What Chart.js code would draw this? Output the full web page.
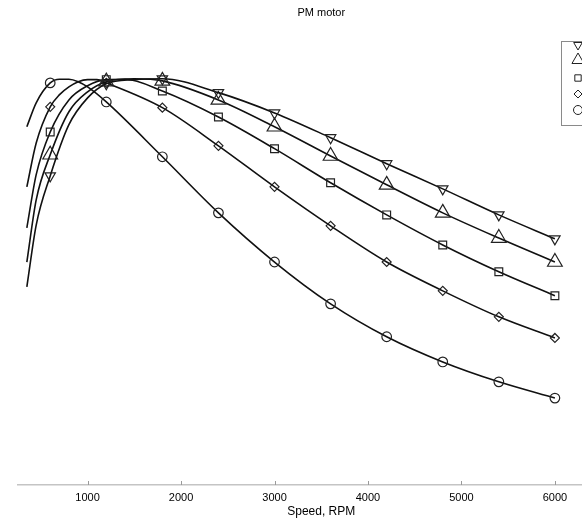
<!DOCTYPE html>
<html>
<head>
<meta charset="utf-8">
<title>PM motor</title>
<script src="https://cdn.jsdelivr.net/npm/chart.js@4.4.1/dist/chart.umd.min.js"></script>
<style>
  html, body { margin: 0; padding: 0; background: #fff; overflow: hidden; }
  #wrap { width: 640px; height: 522px; }
</style>
</head>
<body>
<div id="wrap"><canvas id="motorChart" width="640" height="522"></canvas></div>
<script>
// --- Data (normalised so that the peak is ~1) ---
const tickSpeeds = [1000, 2000, 3000, 4000, 5000, 6000];

const downSpeeds = [350, 450, 600, 800, 1000, 1200, 1500, 1800, 2400, 3000, 3600, 4200, 4800, 5400, 6000];
const downValues = [0.488, 0.640, 0.761, 0.887, 0.953, 0.988, 0.998, 1.0, 0.966, 0.916, 0.855, 0.791, 0.729, 0.665, 0.606];

const upSpeeds = [350, 450, 600, 800, 1000, 1200, 1500, 1800, 2400, 3000, 3600, 4200, 4800, 5400, 6000];
const upValues = [0.549, 0.702, 0.813, 0.919, 0.968, 0.993, 1.0, 0.995, 0.948, 0.882, 0.810, 0.739, 0.670, 0.608, 0.549];

const squareSpeeds = [350, 450, 600, 800, 1000, 1200, 1400, 1800, 2400, 3000, 3600, 4200, 4800, 5400, 6000];
const squareValues = [0.633, 0.764, 0.869, 0.948, 0.983, 0.998, 0.999, 0.970, 0.906, 0.828, 0.744, 0.665, 0.591, 0.525, 0.466];

const diamondSpeeds = [350, 450, 600, 700, 800, 900, 1000, 1100, 1200, 1800, 2400, 3000, 3600, 4200, 4800, 5400, 6000];
const diamondValues = [0.734, 0.842, 0.931, 0.961, 0.980, 0.993, 0.998, 0.998, 0.990, 0.929, 0.835, 0.734, 0.638, 0.549, 0.478, 0.414, 0.362];

const circleSpeeds = [350, 450, 600, 700, 800, 900, 1000, 1200, 1800, 2400, 3000, 3600, 4200, 4800, 5400, 6000];
const circleValues = [0.882, 0.941, 0.990, 0.999, 0.999, 0.993, 0.980, 0.943, 0.808, 0.670, 0.549, 0.446, 0.365, 0.303, 0.254, 0.214];

const MARKER_STEP = 600; // markers only every 600 rpm
const FONT = 'Liberation Sans, Arial, Helvetica, sans-serif';

// --- Helpers ---
function toPoints(xs, ys) {
    return xs.map((x, i) => ({ x: x, y: ys[i] }));
}

function makeSeries(label, xs, ys, style, radius, rotation) {
    return {
        label: label,
        data: toPoints(xs, ys),
        borderColor: '#111',
        borderWidth: 1.6,
        backgroundColor: 'rgba(0,0,0,0)',
        pointStyle: style,
        rotation: rotation || 0,
        pointBorderColor: '#222',
        pointBorderWidth: 1.2,
        pointRadius: ctx => (ctx.raw && ctx.raw.x % MARKER_STEP === 0 ? radius : 0),
        pointHoverRadius: 0,
        cubicInterpolationMode: 'monotone',
        fill: false
    };
}

const seriesList = [
    makeSeries('Case 1', downSpeeds, downValues, 'triangle', 6, 180),
    makeSeries('Case 2', upSpeeds, upValues, 'triangle', 8.5, 0),
    makeSeries('Case 3', squareSpeeds, squareValues, 'rect', 5.5, 0),
    makeSeries('Case 4', diamondSpeeds, diamondValues, 'rectRot', 4.5, 0),
    makeSeries('Case 5', circleSpeeds, circleValues, 'circle', 4.8, 0)
];

// small tick marks pointing up from the axis line
const innerTicks = {
    id: 'innerTicks',
    afterDraw(chart) {
        const ctx = chart.ctx;
        const xScale = chart.scales.x;
        const bottom = chart.chartArea.bottom;
        ctx.save();
        ctx.strokeStyle = '#9a9a9a';
        ctx.lineWidth = 1;
        tickSpeeds.forEach(v => {
            const px = Math.round(xScale.getPixelForValue(v)) + 0.5;
            ctx.beginPath();
            ctx.moveTo(px, bottom - 4);
            ctx.lineTo(px, bottom);
            ctx.stroke();
        });
        ctx.restore();
    }
};

// legend box (cut off at the right edge like the original)
const markerLegend = {
    id: 'markerLegend',
    afterDraw(chart) {
        const ctx = chart.ctx;
        const boxX = 561.5, boxY = 41.5, boxH = 84;
        const rowsY = [45, 60, 78, 94, 110];
        const legendSizes = [5, 7, 4.5, 4, 4.5];
        ctx.save();
        ctx.fillStyle = '#fff';
        ctx.fillRect(boxX, boxY, 90, boxH);
        ctx.strokeStyle = '#8a8a8a';
        ctx.lineWidth = 1;
        ctx.strokeRect(boxX, boxY, 90, boxH);
        ctx.strokeStyle = '#222';
        chart.data.datasets.forEach((ds, i) => {
            Chart.helpers.drawPoint(ctx, {
                pointStyle: ds.pointStyle,
                rotation: ds.rotation,
                radius: legendSizes[i],
                borderWidth: 1.3
            }, 578, rowsY[i]);
        });
        ctx.restore();
    }
};

const ctx = document.getElementById('motorChart').getContext('2d');
const motorChart = new Chart(ctx, {
    type: 'line',
    data: { datasets: seriesList },
    options: {
        responsive: false,
        animation: false,
        layout: { padding: { left: 17.5, right: 15, top: 0, bottom: 0 } },
        plugins: {
            legend: { display: false },
            tooltip: { enabled: false },
            title: {
                display: true,
                text: 'PM motor',
                color: '#000',
                font: { family: FONT, size: 11, weight: 'normal' },
                padding: { top: 6, bottom: 19 }
            }
        },
        scales: {
            x: {
                type: 'linear',
                min: 250,
                max: 6750,
                afterBuildTicks: scale => {
                    scale.ticks = tickSpeeds.map(v => ({ value: v }));
                },
                afterFit: scale => { scale.height = 37; },
                grid: { display: false, drawTicks: false },
                border: { display: true, color: '#c4c4c4', width: 1.5 },
                ticks: {
                    padding: 6,
                    color: '#000',
                    font: { family: FONT, size: 11 },
                    maxRotation: 0,
                    autoSkip: false,
                    callback: value => String(value)
                },
                title: {
                    display: true,
                    text: 'Speed, RPM',
                    color: '#000',
                    font: { family: FONT, size: 12 },
                    padding: { top: 0, bottom: 3 }
                }
            },
            y: {
                display: false,
                min: 0,
                max: 1.1
            }
        }
    },
    plugins: [innerTicks, markerLegend]
});
</script>
</body>
</html>
